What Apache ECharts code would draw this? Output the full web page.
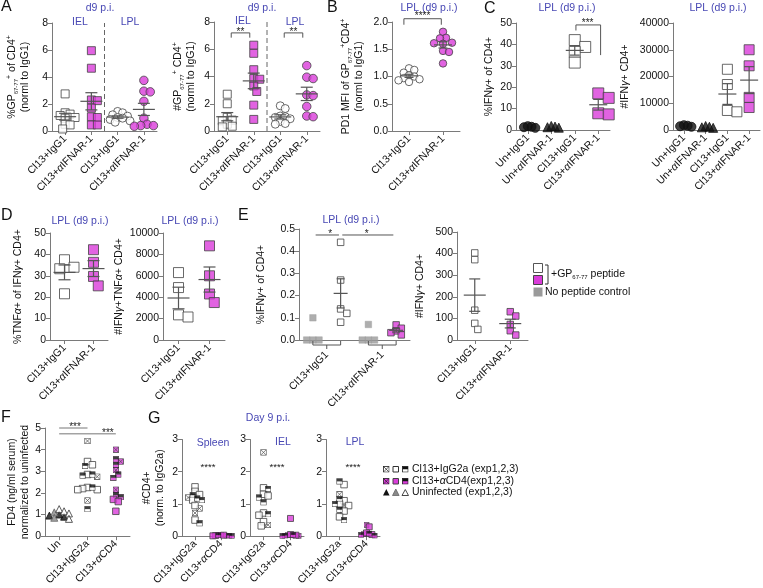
<!DOCTYPE html>
<html><head><meta charset="utf-8">
<script src="https://cdn.jsdelivr.net/npm/echarts@6/dist/echarts.min.js"></script>
<style>html,body{margin:0;padding:0;background:#fff}#c{width:763px;height:588px}</style>
</head><body><div id="c"></div>
<script>
// ================= DATA =================
const A_cats = ['Cl13+IgG1','Cl13+αIFNAR-1','Cl13+IgG1','Cl13+αIFNAR-1'];
const A_ticks = [0,2,4,6,8];
const A1_iel_igg1  = [2.75,1.35,1.25,1.15,1.0,0.95,0.5,0.45,0.15];
const A1_iel_ifnar = [5.95,4.65,2.3,2.25,1.7,1.05,1.0,0.45,0.45];
const A1_lpl_igg1  = [1.45,1.35,1.2,1.1,1.0,0.95,0.85,0.75,0.65];
const A1_lpl_ifnar = [3.75,2.95,2.9,2.2,0.95,0.5,0.4,0.4,0.35];
const A2_iel_igg1  = [2.7,2.0,1.0,0.8,0.75,0.5,0.35,0.3];
const A2_iel_ifnar = [6.3,5.7,4.5,3.85,3.8,3.3,2.9,1.9,0.85];
const A2_lpl_igg1  = [1.85,1.65,1.1,1.05,1.0,0.9,0.7,0.55,0.5];
const A2_lpl_ifnar = [4.8,3.95,3.85,2.65,2.6,1.8,1.1,1.05];

const B_cats = ['Cl13+IgG1','Cl13+αIFNAR-1'];
const B_ticks = [0,0.5,1,1.5,2];
const B_igg1  = [1.15,1.12,1.07,1.02,1.0,0.97,0.95,0.93,0.9];
const B_ifnar = [1.82,1.71,1.70,1.62,1.61,1.60,1.47,1.45,1.24];

const C_cats = ['Un+IgG1','Un+αIFNAR-1','Cl13+IgG1','Cl13+αIFNAR-1'];
const C1_ticks = [0,10,20,30,40,50];
const C1_un_igg1 = [1.8,1.5,1.3,1.0];
const C1_un_ifnar = [1.9,1.6,1.3,1.1];
const C1_cl13_igg1 = [42,38.8,36.5,31.5];
const C1_cl13_ifnar = [17.1,15,7.8,7.3];
const C2_ticks = [0,10000,20000,30000,40000];
const C2_un_igg1 = [1800,1600,1400,1200];
const C2_un_ifnar = [1500,1200,1000,800];
const C2_cl13_igg1 = [22700,17000,7300,6800];
const C2_cl13_ifnar = [30000,24000,12200,8400];

const D_cats = ['Cl13+IgG1','Cl13+αIFNAR-1'];
const D1_ticks = [0,10,20,30,40,50];
const D1_igg1 = [37.5,34,33.3,21.6];
const D1_ifnar = [42.2,36.3,29.7,25.3];
const D2_ticks = [0,2000,4000,6000,8000,10000];
const D2_igg1 = [6300,4900,2350,2150];
const D2_ifnar = [8800,6000,4300,3500];

const E_cats = ['Cl13+IgG1','Cl13+αIFNAR-1'];
const E1_ticks = [0,0.1,0.2,0.3,0.4,0.5];
const E1_nopep_igg1 = [0.1,0,0,0];
const E1_pep_igg1 = [0.44,0.27,0.14,0.12,0.08];
const E1_nopep_ifnar = [0.07,0,0,0];
const E1_pep_ifnar = [0.068,0.053,0.041,0.033,0.023];
const E2_ticks = [0,100,200,300,400,500];
const E2_igg1 = [403,372,138,77,49];
const E2_ifnar = [131,111,72,43,23];

const F_cats = ['Un','Cl13+IgG2a','Cl13+αCD4'];
const F_ticks = [0,1,2,3,4,5];
const F_un_black = [1.0,0.95,0.9];
const F_un_gray = [1.1,0.85];
const F_un_open = [1.25,1.15,1.05,0.8];
const F_igg2a_cross = [4.4,2.75,1.65];
const F_igg2a_open = [3.45,3.3,2.85,2.25,2.2,2.15,2.15];
const F_igg2a_half = [3.25,2.85,2.8,2.25,1.25];
const F_cd4_cross = [4.0,3.45,3.05,2.15];
const F_cd4_half = [3.55,3.3,2.85,2.7,1.9,1.8];
const F_cd4_pink = [1.7,1.6,1.15];

const G_cats = ['Cl13+IgG2a','Cl13+αCD4'];
const G_ticks = [0,1,2,3];
const G1_igg2a_open = [1.53,1.39,1.29,1.12,0.95,0.5];
const G1_igg2a_half = [1.27,1.17,1.12,0.4];
const G1_igg2a_cross = [1.2,0.86,0.72];
const G1_cd4_pink = [0.03,0.02,0.01];
const G1_cd4_half = [0.03,0.02,0.01];
const G1_cd4_cross = [0.05,0.02];
const G2_igg2a_open = [1.5,1.3,1.25,0.72,0.65,0.45,0.32];
const G2_igg2a_half = [1.47,1.2,1.05,0.68];
const G2_igg2a_cross = [2.6,0.35];
const G2_cd4_pink = [0.55,0.05,0.03];
const G2_cd4_half = [0.04,0.02,0.01];
const G2_cd4_cross = [0.03,0.01];
const G3_igg2a_open = [1.6,1.1,1.0,0.95,0.78,0.6];
const G3_igg2a_half = [1.7,1.15,1.0,0.82,0.5];
const G3_igg2a_cross = [1.3,0.95];
const G3_cd4_pink = [0.29,0.1,0.05];
const G3_cd4_half = [0.08,0.04,0.02];
const G3_cd4_cross = [0.35,0.06];

// ================= STYLE / HELPERS =================
const FONT = '"Liberation Sans", Arial, Helvetica, sans-serif';
const PINK = '#d93cd9';
const BLUE = '#4848b4';
const AX = '#7a7a7a';
const FS = 10.5;

function sqSvg(fill, half, cross) {
  let s = '<svg xmlns="http://www.w3.org/2000/svg" width="24" height="24" viewBox="0 0 24 24">';
  s += '<rect x="1.5" y="1.5" width="21" height="21" fill="' + fill + '"/>';
  if (half) s += '<rect x="1.5" y="1.5" width="21" height="10.5" fill="#111"/>';
  if (cross) s += '<path d="M3 3L21 21M21 3L3 21" stroke="#222" stroke-width="2.6"/>';
  s += '<rect x="1.5" y="1.5" width="21" height="21" fill="none" stroke="#222" stroke-width="3"/>';
  s += '</svg>';
  return 'data:image/svg+xml;charset=utf-8,' + encodeURIComponent(s);
}
const IMG = {
  crossSq: sqSvg('#fff', false, true),
  halfSq: sqSvg('#fff', true, false),
  crossPink: sqSvg(PINK, false, true),
  halfPink: sqSvg(PINK, true, false)
};
const SYM = {
  openSq: {symbol:'rect', itemStyle:{color:'#fff', borderColor:'#444', borderWidth:1}},
  pinkSq: {symbol:'rect', itemStyle:{color:PINK, borderColor:'#444', borderWidth:1}},
  openCi: {symbol:'circle', itemStyle:{color:'#fff', borderColor:'#444', borderWidth:1}},
  pinkCi: {symbol:'circle', itemStyle:{color:PINK, borderColor:'#444', borderWidth:1}},
  blackCi: {symbol:'circle', itemStyle:{color:'#111', borderColor:'#111', borderWidth:1}},
  blackTri: {symbol:'triangle', itemStyle:{color:'#111', borderColor:'#111', borderWidth:1}},
  grayTri: {symbol:'triangle', itemStyle:{color:'#8a8a8a', borderColor:'#666', borderWidth:1}},
  openTri: {symbol:'triangle', itemStyle:{color:'#fff', borderColor:'#333', borderWidth:1}},
  graySq: {symbol:'rect', itemStyle:{color:'#9a9a9a', borderColor:'#9a9a9a', borderWidth:0.5}},
  crossSq: {symbol:'image://' + IMG.crossSq, itemStyle:{}},
  halfSq: {symbol:'image://' + IMG.halfSq, itemStyle:{}},
  crossPink: {symbol:'image://' + IMG.crossPink, itemStyle:{}},
  halfPink: {symbol:'image://' + IMG.halfPink, itemStyle:{}}
};

const RICH = {
  t:{fontFamily:FONT,fontSize:FS,color:'#111',lineHeight:13},
  s:{fontFamily:FONT,fontSize:6,color:'#111',lineHeight:13,verticalAlign:'bottom'},
  p:{fontFamily:FONT,fontSize:7,color:'#111',lineHeight:13,verticalAlign:'top'},
  g:{fontFamily:FONT,fontSize:FS,color:'#111',lineHeight:13,fontStyle:'italic'}
};

function swarm(vals, size, ppu, sep) {
  const order = vals.map((v,i)=>i).sort((a,b)=>vals[b]-vals[a]);
  const placed = []; const out = new Array(vals.length).fill(0);
  const minD = size*sep;
  for (const i of order) {
    const y = vals[i]*ppu;
    let best = 0;
    for (let k=0;k<80;k++) {
      const dx = k===0 ? 0 : (k%2 ? 1 : -1)*Math.ceil(k/2)*minD*0.5;
      if (placed.every(p => Math.hypot(p.x-dx, p.y-y) >= minD)) { best = dx; break; }
    }
    placed.push({x:best, y}); out[i] = best;
  }
  return out;
}
function meanSem(v) {
  const n = v.length, m = v.reduce((a,b)=>a+b,0)/n;
  const sd = Math.sqrt(v.reduce((a,b)=>a+(b-m)*(b-m),0)/(n-1));
  return [m, sd/Math.sqrt(n)];
}

const grids=[], xAxes=[], yAxes=[], series=[];

function annotSeries(g, items) {
  return {
    type:'custom', xAxisIndex:g, yAxisIndex:g, z:7, silent:true, animation:false, clip:false,
    data: items.map(()=>[0,0]),
    renderItem(params, api) {
      const it = items[params.dataIndex];
      const band = api.size([1,0])[0];
      const x0 = api.coord([0,0])[0];
      const X = c => x0 + c*band;
      const Y = v => api.coord([0,v])[1];
      const st = {stroke: it.color || '#555', lineWidth:1, fill:null};
      if (it.t==='bracket') {
        return {type:'polyline', shape:{points:[[X(it.c1),Y(it.yl)],[X(it.c1),Y(it.y)],[X(it.c2),Y(it.y)],[X(it.c2),Y(it.yr)]]}, style:st};
      }
      if (it.t==='line') {
        return {type:'line', shape:{x1:X(it.c1),y1:Y(it.y),x2:X(it.c2),y2:Y(it.y)}, style:st};
      }
      if (it.t==='vdash') {
        return {type:'line', shape:{x1:X(it.c),y1:Y(it.y1),x2:X(it.c),y2:Y(it.y2)}, style:{stroke:'#666',lineWidth:1,lineDash:[5,3]}};
      }
      if (it.t==='under') {
        const y0 = Y(0)+1, xa = X(it.c-0.25), xb = X(it.c+0.25), xm = X(it.c);
        return {type:'group', children:[
          {type:'polyline', shape:{points:[[xa,y0],[xa,y0+4],[xb,y0+4],[xb,y0]]}, style:{stroke:'#555',lineWidth:1,fill:null}},
          {type:'line', shape:{x1:xm,y1:y0+4,x2:xm,y2:y0+8}, style:{stroke:'#555',lineWidth:1}}]};
      }
      if (it.t==='text') {
        return {type:'text', x:X(it.c), y:Y(it.y)+(it.dy||0), style:{text:it.text, fill:'#222', fontSize:it.fs||10, fontFamily:FONT, align:'center', verticalAlign:'middle', textAlign:'center', textVerticalAlign:'middle'}};
      }
      return null;
    }
  };
}

function addPanel(p) {
  const g = grids.length;
  grids.push({left:p.left, top:p.top, width:p.width, height:p.height});
  xAxes.push({
    type:'category', gridIndex:g, data:p.cats, boundaryGap:true,
    axisLine:{lineStyle:{color:AX,width:1}},
    axisTick:{show:p.xticks!==false, alignWithLabel:true, length:4, lineStyle:{color:AX}},
    axisLabel:{rotate:45, interval:0, fontSize:FS, fontFamily:FONT, color:'#111', margin:p.xmargin||6,
      formatter: v => v.replace('α','{i|α}'),
      rich:{i:{fontStyle:'italic', fontSize:FS, fontFamily:FONT, color:'#111'}}},
    splitLine:{show:false}
  });
  const t = p.ticks;
  yAxes.push({
    type:'value', gridIndex:g, min:t[0], max:t[t.length-1], interval:t[1]-t[0],
    axisLine:{show:true, lineStyle:{color:AX,width:1}},
    axisTick:{show:true, length:4, lineStyle:{color:AX}},
    splitLine:{show:false},
    axisLabel:{fontSize:FS, fontFamily:FONT, color:'#111', margin:4,
      formatter: v => p.dec ? Number(v).toFixed(p.dec) : String(v)},
    name:p.name || '', nameLocation:'middle', nameGap:p.nameGap || 20,
    nameTextStyle:{fontFamily:FONT, fontSize:FS, color:'#111', lineHeight:13, rich:RICH}
  });
  const ppu = p.height/(t[t.length-1]-t[0]);
  const band = p.width/p.cats.length;
  const errs = [];
  p.groups.forEach(gr => {
    const all = [].concat(...gr.parts.map(pt=>pt.vals));
    const offs = swarm(all, gr.size, ppu, gr.sep || 0.95);
    const shift = (gr.dx || 0)*band;
    let k = 0;
    gr.parts.forEach(pt => {
      const s = SYM[pt.sym];
      const data = pt.vals.map(v => ({value:[gr.cat, v], symbolOffset:[offs[k++] + shift, 0]}));
      series.push({type:'scatter', xAxisIndex:g, yAxisIndex:g, symbol:s.symbol, symbolSize:gr.size,
        itemStyle:s.itemStyle, data, z:3, silent:true, animation:false});
    });
    if (gr.err) {
      const [m, se] = meanSem(all);
      errs.push([gr.cat, m, m-se, m+se, shift, gr.err[0], gr.err[1]]);
    }
  });
  if (errs.length) {
    series.push({
      type:'custom', xAxisIndex:g, yAxisIndex:g, z:6, silent:true, animation:false,
      encode:{x:0, y:[1,2,3]}, data:errs,
      renderItem(params, api) {
        const c = api.value(0), off = api.value(4), hw = api.value(5), cw = api.value(6);
        const pm = api.coord([c, api.value(1)]), pl = api.coord([c, api.value(2)]), ph = api.coord([c, api.value(3)]);
        const x = pm[0] + off;
        const st = {stroke:'#555', lineWidth:1.2};
        return {type:'group', children:[
          {type:'line', shape:{x1:x-hw,y1:pm[1],x2:x+hw,y2:pm[1]}, style:st},
          {type:'line', shape:{x1:x,y1:pl[1],x2:x,y2:ph[1]}, style:st},
          {type:'line', shape:{x1:x-cw,y1:pl[1],x2:x+cw,y2:pl[1]}, style:st},
          {type:'line', shape:{x1:x-cw,y1:ph[1],x2:x+cw,y2:ph[1]}, style:st}]};
      }
    });
  }
  if (p.annot) series.push(annotSeries(g, p.annot));
}

// ================= PANELS =================
const eA = [11,6];
addPanel({left:52, top:23, width:105, height:108, cats:A_cats, ticks:A_ticks, nameGap:20,
  name:'{t|%GP}{s|67-77}{p|+}{t| of CD4}{p|+}\n{t|(norml to IgG1)}',
  groups:[
    {cat:0, parts:[{vals:A1_iel_igg1, sym:'openSq'}], size:8, sep:0.62, err:eA},
    {cat:1, parts:[{vals:A1_iel_ifnar, sym:'pinkSq'}], size:8, sep:0.75, err:eA},
    {cat:2, parts:[{vals:A1_lpl_igg1, sym:'openCi'}], size:8, sep:0.62, err:eA},
    {cat:3, parts:[{vals:A1_lpl_ifnar, sym:'pinkCi'}], size:8.5, sep:0.75, err:eA}],
  annot:[{t:'vdash', c:1.5, y1:0, y2:8}]
});
addPanel({left:214, top:22, width:106, height:109, cats:A_cats, ticks:A_ticks, nameGap:16,
  name:'{t|#GP}{s|67-77}{p|+}{t| CD4}{p|+}\n{t|(norml to IgG1)}',
  groups:[
    {cat:0, parts:[{vals:A2_iel_igg1, sym:'openSq'}], size:8, sep:0.62, err:eA},
    {cat:1, parts:[{vals:A2_iel_ifnar, sym:'pinkSq'}], size:8, sep:0.75, err:eA},
    {cat:2, parts:[{vals:A2_lpl_igg1, sym:'openCi'}], size:8, sep:0.62, err:eA},
    {cat:3, parts:[{vals:A2_lpl_ifnar, sym:'pinkCi'}], size:8.5, sep:0.75, err:eA}],
  annot:[{t:'vdash', c:1.5, y1:0, y2:8},
    {t:'bracket', c1:0.15, c2:0.85, y:7.2, yl:6.85, yr:6.85},
    {t:'text', c:0.5, y:7.2, dy:-1, text:'**'},
    {t:'bracket', c1:2.15, c2:2.85, y:7.2, yl:6.85, yr:6.85},
    {t:'text', c:2.5, y:7.2, dy:-1, text:'**'}]
});
addPanel({left:392, top:22, width:68, height:109, cats:B_cats, ticks:B_ticks, dec:1, nameGap:26,
  name:'{t|PD1 MFI of GP}{s|67-77}{p|+}{t|CD4}{p|+}\n{t|(norml to IgG1)}',
  groups:[
    {cat:0, parts:[{vals:B_igg1, sym:'openCi'}], size:7.5, sep:0.7, err:[9,4.5]},
    {cat:1, parts:[{vals:B_ifnar, sym:'pinkCi'}], size:7.5, sep:0.8, err:[9,4.5]}],
  annot:[{t:'bracket', c1:-0.15, c2:0.95, y:2.06, yl:1.95, yr:1.95},
    {t:'text', c:0.4, y:2.06, dy:-2, text:'****'}]
});
addPanel({left:516, top:23, width:94, height:107, cats:C_cats, ticks:C1_ticks, nameGap:20,
  name:'{t|%IFN}{g|γ}{t|+ of CD4+}',
  groups:[
    {cat:0, parts:[{vals:C1_un_igg1, sym:'blackCi'}], size:9, sep:0.42},
    {cat:1, parts:[{vals:C1_un_ifnar, sym:'blackTri'}], size:9, sep:0.42},
    {cat:2, parts:[{vals:C1_cl13_igg1, sym:'openSq'}], size:11, err:[9,5]},
    {cat:3, parts:[{vals:C1_cl13_ifnar, sym:'pinkSq'}], size:11, err:[9,5]}],
  annot:[{t:'bracket', c1:2.05, c2:3.1, y:49.1, yl:46.5, yr:35},
    {t:'text', c:2.55, y:49.1, dy:-2, text:'***'}]
});
addPanel({left:673, top:23, width:87, height:107, cats:C_cats, ticks:C2_ticks, nameGap:41,
  name:'{t|#IFN}{g|γ}{t|+ CD4+}',
  groups:[
    {cat:0, parts:[{vals:C2_un_igg1, sym:'blackCi'}], size:9, sep:0.42},
    {cat:1, parts:[{vals:C2_un_ifnar, sym:'blackTri'}], size:9, sep:0.42},
    {cat:2, parts:[{vals:C2_cl13_igg1, sym:'openSq'}], size:10, err:[9,5]},
    {cat:3, parts:[{vals:C2_cl13_ifnar, sym:'pinkSq'}], size:10, err:[9,5]}]
});
addPanel({left:50, top:233, width:58, height:107, cats:D_cats, ticks:D1_ticks, nameGap:25,
  name:'{t|%TNF}{g|α}{t|+ of IFN}{g|γ}{t|+ CD4+}',
  groups:[
    {cat:0, parts:[{vals:D1_igg1, sym:'openSq'}], size:10, err:[11,6]},
    {cat:1, parts:[{vals:D1_ifnar, sym:'pinkSq'}], size:10, err:[11,6]}]
});
addPanel({left:163, top:233, width:62, height:107, cats:D_cats, ticks:D2_ticks, nameGap:36,
  name:'{t|#IFN}{g|γ}{t|+TNF}{g|α}{t|+ CD4+}',
  groups:[
    {cat:0, parts:[{vals:D2_igg1, sym:'openSq'}], size:10, err:[11,6]},
    {cat:1, parts:[{vals:D2_ifnar, sym:'pinkSq'}], size:10, err:[11,6]}]
});
addPanel({left:299, top:229, width:111, height:111, cats:E_cats, ticks:E1_ticks, dec:1, nameGap:31,
  xticks:false, xmargin:13,
  name:'{t|%IFN}{g|γ}{t|+ of CD4+}',
  groups:[
    {cat:0, dx:-0.25, parts:[{vals:E1_nopep_igg1, sym:'graySq'}], size:6.5},
    {cat:0, dx:0.25, parts:[{vals:E1_pep_igg1, sym:'openSq'}], size:6.5, err:[7,4]},
    {cat:1, dx:-0.25, parts:[{vals:E1_nopep_ifnar, sym:'graySq'}], size:6.5},
    {cat:1, dx:0.25, parts:[{vals:E1_pep_ifnar, sym:'pinkSq'}], size:6.5, sep:0.8, err:[7,4]}],
  annot:[{t:'under', c:0}, {t:'under', c:1},
    {t:'line', c1:-0.2, c2:0.22, y:0.473}, {t:'text', c:0.06, y:0.473, dy:-1, text:'*'},
    {t:'line', c1:0.28, c2:1.2, y:0.473}, {t:'text', c:0.72, y:0.473, dy:-1, text:'*'}]
});
addPanel({left:457, top:232, width:71, height:108, cats:E_cats, ticks:E2_ticks, nameGap:30,
  name:'{t|#IFN}{g|γ}{t|+ CD4+}',
  groups:[
    {cat:0, parts:[{vals:E2_igg1, sym:'openSq'}], size:6.5, err:[11,5.5]},
    {cat:1, parts:[{vals:E2_ifnar, sym:'pinkSq'}], size:6.5, sep:0.85, err:[11,5.5]}]
});
addPanel({left:45, top:428, width:85, height:112, cats:F_cats, ticks:F_ticks, nameGap:12,
  name:'{t|FD4 (ng/ml serum)}\n{t|normalized to uninfected}',
  groups:[
    {cat:0, parts:[{vals:F_un_black, sym:'blackTri'},{vals:F_un_gray, sym:'grayTri'},{vals:F_un_open, sym:'openTri'}], size:7, sep:0.7},
    {cat:1, parts:[{vals:F_igg2a_cross, sym:'crossSq'},{vals:F_igg2a_open, sym:'openSq'},{vals:F_igg2a_half, sym:'halfSq'}], size:6.5, sep:0.75},
    {cat:2, parts:[{vals:F_cd4_cross, sym:'crossPink'},{vals:F_cd4_half, sym:'halfPink'},{vals:F_cd4_pink, sym:'pinkSq'}], size:6.5, sep:0.75}],
  annot:[{t:'line', c1:0, c2:1, y:5.0, color:'#777'}, {t:'text', c:0.56, y:5.0, dy:-1, text:'***'},
    {t:'line', c1:0, c2:2, y:4.73, color:'#777'}, {t:'text', c:1.72, y:4.73, dy:-1, text:'***'}]
});
function gPanel(left, name, open, half, cross, pink, hpink, cpink) {
  addPanel({left, top:439.5, width:(name?52:54), height:99, cats:G_cats, ticks:G_ticks, nameGap:15, name,
    groups:[
      {cat:0, parts:[{vals:cross, sym:'crossSq'},{vals:open, sym:'openSq'},{vals:half, sym:'halfSq'}], size:6.5, sep:0.7},
      {cat:1, parts:[{vals:cpink, sym:'crossPink'},{vals:pink, sym:'pinkSq'},{vals:hpink, sym:'halfPink'}], size:6, sep:0.45}],
    annot:[{t:'text', c:0.5, y:2.12, text:'****', fs:9.5}]
  });
}
gPanel(182, '{t|#CD4+}\n{t|(norm. to IgG2a)}', G1_igg2a_open, G1_igg2a_half, G1_igg2a_cross, G1_cd4_pink, G1_cd4_half, G1_cd4_cross);
gPanel(250, '', G2_igg2a_open, G2_igg2a_half, G2_igg2a_cross, G2_cd4_pink, G2_cd4_half, G2_cd4_cross);
gPanel(326, '', G3_igg2a_open, G3_igg2a_half, G3_igg2a_cross, G3_cd4_pink, G3_cd4_half, G3_cd4_cross);

// ================= TEXT / LEGENDS =================
function txt(text, x, y, o) {
  return {type:'text', x, y, silent:true, style:Object.assign({text, fill:'#111', fontSize:FS, fontFamily:FONT,
    align:'center', verticalAlign:'middle', textAlign:'center', textVerticalAlign:'middle'}, o||{})};
}
const letter = (l,x,y) => txt(l, x, y, {fontSize:16, align:'left', textAlign:'left', verticalAlign:'top', textVerticalAlign:'top'});
const blue = (s,x,y) => txt(s, x, y, {fill:BLUE});
const graphics = [
  letter('A',1,-1), letter('B',327,0), letter('C',484,1), letter('D',1,208), letter('E',238,208), letter('F',1,410), letter('G',148,411),
  blue('d9 p.i.',100,8), blue('d9 p.i.',262,8),
  blue('IEL',80,22), blue('LPL',130,22), blue('IEL',243,21), blue('LPL',295,22),
  blue('LPL (d9 p.i.)',429,8), blue('LPL (d9 p.i.)',567,8), blue('LPL (d9 p.i.)',718,8),
  blue('LPL (d9 p.i.)',80,221), blue('LPL (d9 p.i.)',190,221), blue('LPL (d9 p.i.)',351,220),
  blue('Day 9 p.i.',268,418), blue('Spleen',213,443), blue('IEL',283,442), blue('LPL',355,442),
  // legend E
  {type:'rect', shape:{x:533.5,y:263.5,width:9,height:9}, style:{fill:'#fff', stroke:'#555', lineWidth:1}},
  {type:'rect', shape:{x:533.5,y:275.5,width:9,height:9}, style:{fill:PINK, stroke:'#444', lineWidth:1}},
  {type:'polyline', shape:{points:[[545,265],[548,265],[548,284],[545,284]]}, style:{stroke:'#333', lineWidth:1, fill:null}},
  txt('{a|+GP}{s|67-77}{a| peptide}', 551, 274, {align:'left', textAlign:'left',
    rich:{a:{fontSize:FS, fontFamily:FONT, fill:'#111', color:'#111', lineHeight:13}, s:{fontSize:6, fontFamily:FONT, fill:'#111', color:'#111', lineHeight:13, verticalAlign:'bottom'}}}),
  {type:'rect', shape:{x:533.5,y:287.5,width:9,height:9}, style:{fill:'#9a9a9a'}},
  txt('No peptide control', 545, 292, {align:'left', textAlign:'left'}),
  // legend G
  {type:'image', style:{image:IMG.crossSq, x:383, y:466, width:6.5, height:6.5}},
  {type:'rect', shape:{x:393,y:466.5,width:5.5,height:5.5}, style:{fill:'#fff', stroke:'#333', lineWidth:1}},
  {type:'image', style:{image:IMG.halfSq, x:402, y:466, width:6.5, height:6.5}},
  txt('Cl13+IgG2a (exp1,2,3)', 412, 469, {align:'left', textAlign:'left'}),
  {type:'image', style:{image:IMG.crossPink, x:383, y:478, width:6.5, height:6.5}},
  {type:'rect', shape:{x:393,y:478.5,width:5.5,height:5.5}, style:{fill:PINK, stroke:'#444', lineWidth:1}},
  {type:'image', style:{image:IMG.halfPink, x:402, y:478, width:6.5, height:6.5}},
  txt('{a|Cl13+}{g|α}{a|CD4(exp1,2,3)}', 412, 481, {align:'left', textAlign:'left',
    rich:{a:{fontSize:FS, fontFamily:FONT, fill:'#111', color:'#111'}, g:{fontSize:FS, fontFamily:FONT, fill:'#111', color:'#111', fontStyle:'italic'}}}),
  {type:'polygon', shape:{points:[[386.3,489],[389.6,495.5],[383,495.5]]}, style:{fill:'#111'}},
  {type:'polygon', shape:{points:[[395.8,489],[399.1,495.5],[392.5,495.5]]}, style:{fill:'#8a8a8a', stroke:'#666', lineWidth:0.8}},
  {type:'polygon', shape:{points:[[405.3,489.5],[408.5,495.5],[402,495.5]]}, style:{fill:'#fff', stroke:'#333', lineWidth:0.9}},
  txt('Uninfected (exp1,2,3)', 412, 492, {align:'left', textAlign:'left'})
];

const chart = echarts.init(document.getElementById('c'), null, {renderer:'canvas'});
chart.setOption({
  backgroundColor:'#fff', animation:false,
  grid:grids, xAxis:xAxes, yAxis:yAxes, series:series, graphic:graphics
});
</script></body></html>
